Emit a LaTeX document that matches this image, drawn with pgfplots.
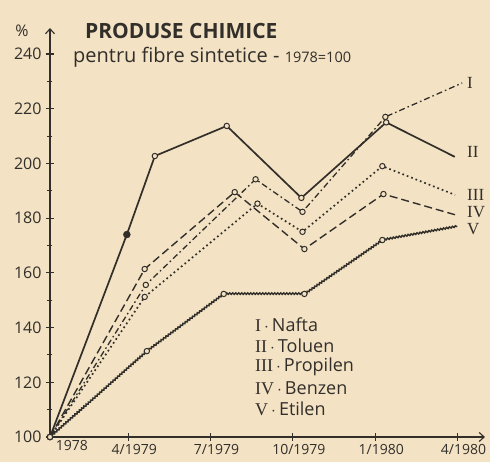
\documentclass[border=0pt]{standalone}
\usepackage{fontspec}
\setmainfont{Open Sans}
\newfontfamily\romfont{Liberation Serif}
\usepackage{pgfplots}
\pgfplotsset{compat=1.18}
\usetikzlibrary{arrows.meta,decorations.pathmorphing}
\definecolor{paper}{RGB}{243,227,196}
\definecolor{ink}{RGB}{50,46,42}
\begin{document}
\begin{tikzpicture}
\fill[paper] (-50pt,-25pt) rectangle (440pt,437pt);
\begin{axis}[
  scale only axis, width=435pt, height=409pt,
  at={(0pt,0pt)}, anchor=south west,
  xmin=0.15, xmax=16, ymin=100, ymax=249.5,
  axis x line=bottom, axis y line=left,
  axis line style={ink, line width=1.1pt, -{Straight Barb[length=5pt,width=9pt]}},
  xtick={3,6,9,12,15},
  xticklabels={4/1979,7/1979,10/1979,1/1980,4/1980},
  extra x ticks={0.73}, extra x tick labels={1978},
  extra x tick style={major tick length=0pt},
  ytick={100,120,...,240}, minor ytick={110,130,...,230},
  tick align=center, major tick length=8pt, minor tick length=5pt,
  tick style={ink, line width=1.1pt},
  /pgf/number format/assume math mode=true,
  /pgf/number format/1000 sep={},
  xticklabel style={font=\fontsize{14}{14}\selectfont, text=ink, xshift=6pt},
  yticklabel style={font=\fontsize{16}{16}\selectfont, text=ink, xshift=-1pt},
  clip=false,
]
% I Nafta
\addplot[ink, line width=1.3pt, dash pattern=on 6pt off 3pt on 1.6pt off 3pt,
  mark=*, mark size=2.7pt, mark indices={1,2,3,4,5},
  mark options={solid, fill=paper, draw=ink, line width=1pt}]
  coordinates {(0.15,100) (3.64,155.6) (7.64,194.2) (9.35,182.3) (12.37,217) (15.17,229.4)};
% II Toluen
\addplot[ink, line width=1.7pt,
  mark=*, mark size=2.7pt, mark indices={1,3,4,5,6},
  mark options={solid, fill=paper, draw=ink, line width=1pt}]
  coordinates {(0.15,100) (2.95,174) (3.97,202.7) (6.59,213.7) (9.31,187.4) (12.4,215) (14.9,202.4)};
\addplot[only marks, mark=*, mark size=3.5pt, ink] coordinates {(2.95,174)};
% III Propilen
\addplot[ink, line width=1.7pt, dash pattern=on 1.7pt off 3pt,
  mark=*, mark size=2.7pt, mark indices={1,2,3,4,5},
  mark options={solid, fill=paper, draw=ink, line width=1pt}]
  coordinates {(0.15,100) (3.6,151.2) (7.71,185.3) (9.35,175) (12.26,199) (14.91,188.5)};
% IV Benzen
\addplot[ink, line width=1.4pt, dash pattern=on 8pt off 4pt,
  mark=*, mark size=2.7pt, mark indices={1,2,3,4,5},
  mark options={solid, fill=paper, draw=ink, line width=1pt}]
  coordinates {(0.15,100) (3.6,161.4) (6.88,189.5) (9.42,168.7) (12.3,188.8) (14.99,181)};
% V Etilen
\addplot[ink, line width=1.5pt, decorate, decoration={snake, amplitude=0.7pt, segment length=3pt}]
  coordinates {(0.15,100) (3.68,131.4) (6.48,152.3) (9.42,152.3) (12.26,172) (14.99,177)};
\addplot[only marks, mark=*, mark size=2.7pt, mark options={fill=paper, draw=ink, line width=1pt}]
  coordinates {(0.15,100) (3.68,131.4) (6.48,152.3) (9.42,152.3) (12.26,172)};
\end{axis}
% title
\node[anchor=base west, inner sep=0pt, text=ink, font=\fontsize{21}{21}\selectfont\bfseries] at (35pt,398pt) {PRODUSE CHIMICE};
\node[anchor=base west, inner sep=0pt, text=ink, font=\fontsize{20}{20}\selectfont] at (23pt,374pt) {pentru fibre sintetice - {\fontsize{14.5}{14.5}\selectfont 1978=100}};
\node[text=ink, font=\fontsize{16}{16}\selectfont, inner sep=0pt] at (-28pt,406pt) {\%};
% end labels
\begin{scope}[every node/.style={anchor=west, inner sep=0pt, text=ink, font=\romfont\fontsize{17}{17}\selectfont}]
\node at (417pt,354pt) {I};
\node at (417pt,285pt) {II};
\node at (417pt,242pt) {III};
\node at (417pt,225pt) {IV};
\node at (417pt,208pt) {V};
\end{scope}
% legend
\begin{scope}[every node/.style={anchor=west, inner sep=0pt, text=ink, font=\fontsize{18}{18}\selectfont}]
\node at (205pt,112pt) {{\romfont I}\,$\cdot$\,Nafta};
\node at (205pt,91pt) {{\romfont II}\,$\cdot$\,Toluen};
\node at (205pt,70pt) {{\romfont III}\,$\cdot$\,Propilen};
\node at (205pt,49pt) {{\romfont IV}\,$\cdot$\,Benzen};
\node at (205pt,28pt) {{\romfont V}\,$\cdot$\,Etilen};
\end{scope}
\pgfresetboundingbox
\useasboundingbox (-50pt,-25pt) rectangle (440pt,437pt);
\end{tikzpicture}
\end{document}
